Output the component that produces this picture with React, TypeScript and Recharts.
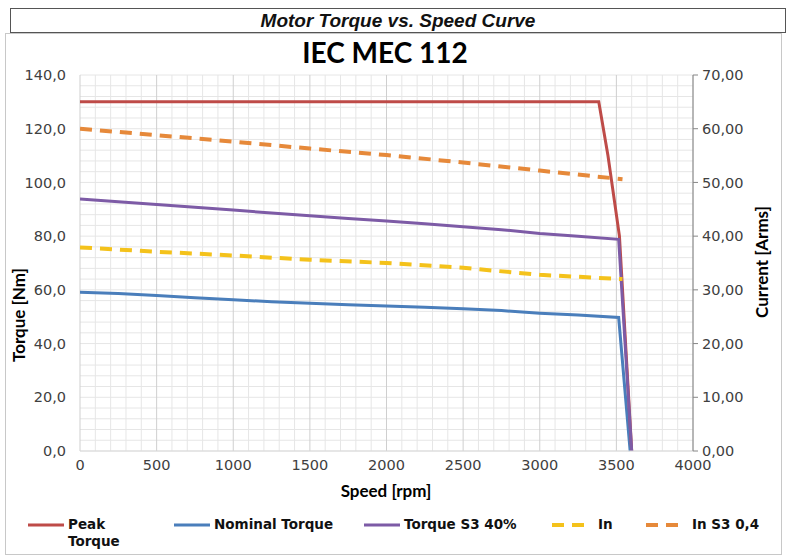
import { LineChart, Line, XAxis, YAxis, ReferenceLine } from "recharts";

const speedTicks = [0, 500, 1000, 1500, 2000, 2500, 3000, 3500, 4000];
const torqueTicks = [0, 20, 40, 60, 80, 100, 120, 140];
const currentTicks = [0, 10, 20, 30, 40, 50, 60, 70];
const minorSpeed = Array.from({ length: 41 }, (_, i) => i * 100);
const minorTorque = Array.from({ length: 36 }, (_, i) => i * 4);

const peakSpeed = [0, 3385, 3445, 3520, 3600];
const peakTorque = [130, 130, 110, 80, 0];

const torqueSpeed = [0, 250, 500, 750, 1000, 1250, 1500, 1750, 2000, 2250, 2500, 2750, 3000, 3250, 3515];
const nominalTorque = [59.1, 58.6, 57.9, 57.1, 56.3, 55.6, 55.0, 54.5, 54.0, 53.5, 53.0, 52.3, 51.3, 50.6, 49.7];
const s3Torque = [93.8, 92.8, 91.8, 90.8, 89.7, 88.6, 87.6, 86.6, 85.6, 84.6, 83.5, 82.4, 81.0, 80.0, 78.8];
const nominalEnd = { s: 3590, v: 0 };
const s3End = { s: 3600, v: 0 };

const currentSpeed = [0, 500, 1000, 1500, 2000, 2500, 3000, 3540];
const inCurrent = [37.9, 37.1, 36.4, 35.6, 35.0, 34.1, 32.8, 32.0];
const inS3Current = [60.0, 58.8, 57.6, 56.3, 55.1, 53.7, 52.2, 50.6];

const zip = (xs: number[], ys: number[]) => xs.map((s, i) => ({ s, v: ys[i] }));

const peakData = zip(peakSpeed, peakTorque);
const nominalData = [...zip(torqueSpeed, nominalTorque), nominalEnd];
const s3Data = [...zip(torqueSpeed, s3Torque), s3End];
const inData = zip(currentSpeed, inCurrent);
const inS3Data = zip(currentSpeed, inS3Current);

const RED = "#be4b48";
const BLUE = "#4a7ebb";
const PURPLE = "#7d5ba6";
const YELLOW = "#f4c21b";
const ORANGE = "#e6893a";
const GRID_MINOR = "#e6e6e6";
const GRID_MAJOR = "#cfcfcf";

const tickStyle = { fill: "#404040", fontSize: 14.5, fontFamily: "DejaVu Sans" };
const fmt1 = (v: number) => v.toFixed(1).replace(".", ",");
const fmt2 = (v: number) => v.toFixed(2).replace(".", ",");

function Swatch({ color, dashed }: { color: string; dashed?: boolean }) {
  return (
    <svg width={36} height={6} style={{ display: "block" }}>
      <line
        x1={0}
        y1={3}
        x2={36}
        y2={3}
        stroke={color}
        strokeWidth={dashed ? 4 : 3}
        strokeDasharray={dashed ? "12 8" : undefined}
      />
    </svg>
  );
}

const legendItems = [
  { label: "Peak\nTorque", color: RED, left: 28 },
  { label: "Nominal Torque", color: BLUE, left: 174 },
  { label: "Torque S3 40%", color: PURPLE, left: 364 },
  { label: "In", color: YELLOW, left: 552, dashed: true },
  { label: "In S3 0,4", color: ORANGE, left: 646, dashed: true },
];

const axisTitle = { font: "bold 17px Lato, sans-serif", whiteSpace: "nowrap" as const, color: "#000" };

export default function App() {
  return (
    <div style={{ position: "absolute", left: 0, top: 0, width: 800, height: 559, background: "#fff" }}>
      <div
        style={{
          position: "absolute",
          left: 10,
          top: 8,
          width: 774,
          height: 23,
          border: "1px solid #555",
          textAlign: "center",
          font: "italic bold 19px 'Liberation Sans', Arial, sans-serif",
          lineHeight: "23px",
          color: "#111",
        }}
      >
        Motor Torque vs. Speed Curve
      </div>
      <div
        style={{
          position: "absolute",
          left: 5,
          top: 33,
          width: 775,
          height: 520,
          border: "1px solid #c8c8c8",
        }}
      />
      <div
        style={{
          position: "absolute",
          left: 0,
          width: 770,
          top: 35,
          textAlign: "center",
          font: "bold 28px Lato, sans-serif",
          color: "#000",
        }}
      >
        IEC MEC 112
      </div>

      <div style={{ position: "absolute", left: 0, top: 0 }}>
        <LineChart width={800} height={559} margin={{ top: 75, right: 0, bottom: 78, left: 0 }}>
          <XAxis
            type="number"
            dataKey="s"
            domain={[0, 4000]}
            ticks={speedTicks}
            tick={tickStyle}
            tickLine={false}
            tickSize={0}
            tickMargin={9}
            axisLine={{ stroke: "#d9d9d9" }}
            height={30}
            allowDataOverflow
          />
          <YAxis
            yAxisId="left"
            type="number"
            domain={[0, 140]}
            ticks={torqueTicks}
            tickFormatter={fmt1}
            tick={tickStyle}
            tickLine={false}
            tickSize={0}
            tickMargin={14}
            axisLine={false}
            width={80}
          />
          <YAxis
            yAxisId="right"
            orientation="right"
            type="number"
            domain={[0, 70]}
            ticks={currentTicks}
            tickFormatter={fmt2}
            tick={tickStyle}
            tickSize={5}
            tickMargin={4}
            tickLine={{ stroke: "#868686" }}
            axisLine={{ stroke: "#868686" }}
            width={107}
          />
          {minorTorque.map((v) => (
            <ReferenceLine key={"h" + v} yAxisId="left" y={v} stroke={GRID_MINOR} strokeWidth={1} />
          ))}
          {minorSpeed.map((v) => (
            <ReferenceLine
              key={"v" + v}
              yAxisId="left"
              x={v}
              stroke={v % 500 === 0 ? GRID_MAJOR : GRID_MINOR}
              strokeWidth={1}
            />
          ))}
          <Line yAxisId="left" data={nominalData} dataKey="v" stroke={BLUE} strokeWidth={3} dot={false} isAnimationActive={false} />
          <Line yAxisId="left" data={peakData} dataKey="v" stroke={RED} strokeWidth={3} dot={false} isAnimationActive={false} />
          <Line yAxisId="left" data={s3Data} dataKey="v" stroke={PURPLE} strokeWidth={3} dot={false} isAnimationActive={false} />
          <Line yAxisId="right" data={inData} dataKey="v" stroke={YELLOW} strokeWidth={4} strokeDasharray="12 8" dot={false} isAnimationActive={false} />
          <Line yAxisId="right" data={inS3Data} dataKey="v" stroke={ORANGE} strokeWidth={4} strokeDasharray="12 8" dot={false} isAnimationActive={false} />
        </LineChart>
      </div>

      <div style={{ ...axisTitle, position: "absolute", left: 18, top: 315, transform: "translate(-50%, -50%) rotate(-90deg)" }}>
        Torque [Nm]
      </div>
      <div style={{ ...axisTitle, position: "absolute", left: 761, top: 262, transform: "translate(-50%, -50%) rotate(-90deg)" }}>
        Current [Arms]
      </div>
      <div style={{ ...axisTitle, position: "absolute", left: 386, top: 490, transform: "translate(-50%, -50%)" }}>
        Speed [rpm]
      </div>

      {legendItems.map((it) => (
        <div
          key={it.label}
          style={{ position: "absolute", left: it.left, top: 516, display: "flex", alignItems: "flex-start" }}
        >
          <div style={{ marginTop: 6 }}>
            <Swatch color={it.color} dashed={it.dashed} />
          </div>
          <div
            style={{
              marginLeft: it.dashed ? 10 : 4,
              font: "bold 13.5px 'DejaVu Sans', Verdana, sans-serif",
              lineHeight: "17px",
              whiteSpace: "pre",
              color: "#111",
            }}
          >
            {it.label}
          </div>
        </div>
      ))}
    </div>
  );
}
